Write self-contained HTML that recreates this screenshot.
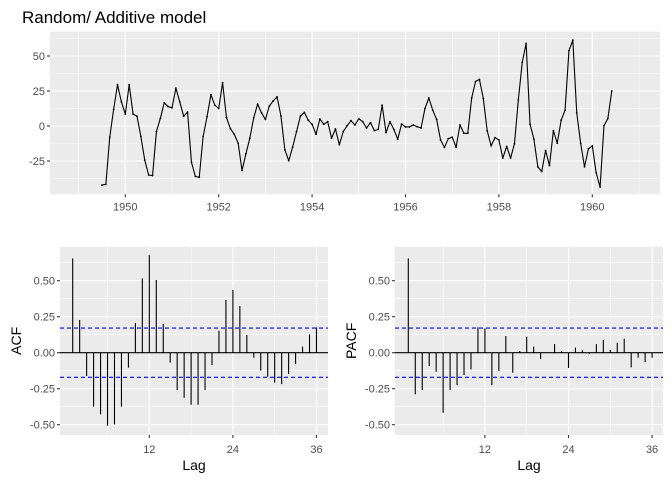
<!DOCTYPE html>
<html><head><meta charset="utf-8"><style>
body{margin:0;background:#fff;}
svg{display:block;font-family:"Liberation Sans",Arial,sans-serif;}
</style></head><body>
<svg id="c" width="672" height="480" xmlns="http://www.w3.org/2000/svg">
<text x="22" y="23" font-size="17" fill="#000">Random/ Additive model</text>
</svg>
<script>
const seriesStart = 1949.5;
const seriesValues = [-42.2,-41.7,-8,11.8,29.5,17.2,8.5,29.5,8.5,7,-7.5,-24.5,-35,-35.4,-4,5.4,16.5,13.9,13,27,17.2,7,10,-26,-36,-36.6,-7.5,6.6,22.4,14.9,12.5,30.9,6,-1.9,-5.9,-12.3,-31.8,-19.8,-8.7,5.9,15.6,
9.4,4.7,14.2,17.9,20.8,7.1,-17,-24.8,-15.1,-4,7.1,9.7,4.2,1.2,-5.9,5,1.2,3.1,-8.7,-2.1,-13.4,-4,0.2,3.8,0.7,5.2,3.1,-1.4,2.4,-3.3,-2.4,14.9,-4.7,3.1,-2.4,-9.4,1.4,-0.7,-0.7,0.7,-0.5,-1.4,12.5,20,11.3,4.7,-9.9,-15.3,-9,
-8,-15.1,0.7,-5.2,-5.2,20,31.8,33.3,19.6,-3.5,-14.2,-8.3,-9.9,-22.9,-14.6,-22.9,-12.7,18.9,45.5,59,1.2,-9.4,-29.2,-32.5,-17.5,-28.3,-3.3,-12.3,4.2,11.3,53.8,61.3,9.4,-12.3,-29.2,-16.3,-14.2,-33.5,-43.6,0.2,5.4,25];
const topYTicks = [50,25,0,-25];
const topXTicks = [1950,1952,1954,1956,1958,1960];
const acfValues = [0.655,0.227,-0.162,-0.375,-0.428,-0.507,-0.498,-0.375,-0.104,0.206,0.516,0.678,0.505,0.199,-0.069,-0.259,-0.313,-0.361,-0.361,-0.259,-0.086,0.153,0.366,0.435,0.324,0.123,-0.035,-0.125,-0.167,-0.208,-0.218,-0.148,-0.079,0.042,0.127,0.176];
const pacfValues = [0.655,-0.289,-0.259,-0.093,-0.132,-0.417,-0.259,-0.225,-0.155,-0.116,0.176,0.169,-0.225,-0.127,0.116,-0.139,0.012,0.111,0.042,-0.044,0.0,0.06,0.012,-0.106,0.035,0.019,-0.009,0.06,0.088,0.019,0.069,0.097,-0.102,-0.035,-0.065,-0.035];
const ciLimit = 0.171;
const corYTicks = [0.5,0.25,0,-0.25,-0.5];
const lagTicks = [12,24,36];

const svg = document.getElementById('c');
const NS = 'http://www.w3.org/2000/svg';
function mk(tag, attrs, parent){const e=document.createElementNS(NS,tag);for(const k in attrs)e.setAttribute(k,attrs[k]);(parent||svg).appendChild(e);return e;}

// ---- top panel
const tp = {l:50,r:660,t:31.7,b:194.3};
const tx = t => 125.3 + (t-1950)*46.7;
const ty = v => 126 - v*1.4;
let g = mk('g',{});


mk('rect',{x:tp.l,y:tp.t,width:tp.r-tp.l,height:tp.b-tp.t,fill:'#ebebeb'},g);
for(let yr=1949; yr<=1961; yr+=2){mk('line',{x1:tx(yr),x2:tx(yr),y1:tp.t,y2:tp.b,stroke:'#fff','stroke-width':0.55},g);}
[62.5,37.5,12.5,-12.5,-37.5].forEach(v=>mk('line',{x1:tp.l,x2:tp.r,y1:ty(v),y2:ty(v),stroke:'#fff','stroke-width':0.55},g));
topXTicks.forEach(yr=>{
  mk('line',{x1:tx(yr),x2:tx(yr),y1:tp.t,y2:tp.b,stroke:'#fff','stroke-width':1.1},g);
  mk('line',{x1:tx(yr),x2:tx(yr),y1:tp.b,y2:tp.b+3,stroke:'#333','stroke-width':1.1},g);
  const t=mk('text',{x:tx(yr),y:tp.b+16,'font-size':11,fill:'#4d4d4d','text-anchor':'middle'},g);t.textContent=yr;
  
});
topYTicks.forEach(v=>{
  mk('line',{x1:tp.l,x2:tp.r,y1:ty(v),y2:ty(v),stroke:'#fff','stroke-width':1.1},g);
  mk('line',{x1:tp.l-3,x2:tp.l,y1:ty(v),y2:ty(v),stroke:'#333','stroke-width':1.1},g);
  const t=mk('text',{x:tp.l-5,y:ty(v)+4,'font-size':11,fill:'#4d4d4d','text-anchor':'end'},g);t.textContent=v;
  
});
const pts = seriesValues.map((v,i)=>tx(seriesStart+i/12).toFixed(2)+','+ty(v).toFixed(2)).join(' ');
const line = mk('polyline',{points:pts,fill:'none',stroke:'#000','stroke-width':1.1,'stroke-linejoin':'round'},g);


seriesValues.forEach((v,i)=>mk('circle',{cx:tx(seriesStart+i/12),cy:ty(v),r:0.9,fill:'#000'},g));

// ---- correlogram panels
function corPanel(name, vals, l, r, lag1x, ylab){
  const p={l:l,r:r,t:246.7,b:435};
  const cx = lag => lag1x + (lag-1)*6.965;
  const cy = v => 352.7 - v*144;
  const gg = mk('g',{});
  
  
  mk('rect',{x:p.l,y:p.t,width:p.r-p.l,height:p.b-p.t,fill:'#ebebeb'},gg);
  [6,18,30].forEach(k=>mk('line',{x1:cx(k),x2:cx(k),y1:p.t,y2:p.b,stroke:'#fff','stroke-width':0.55},gg));
  [0.625,0.375,0.125,-0.125,-0.375].forEach(v=>mk('line',{x1:p.l,x2:p.r,y1:cy(v),y2:cy(v),stroke:'#fff','stroke-width':0.55},gg));
  lagTicks.forEach(k=>{
    mk('line',{x1:cx(k),x2:cx(k),y1:p.t,y2:p.b,stroke:'#fff','stroke-width':1.1},gg);
    mk('line',{x1:cx(k),x2:cx(k),y1:p.b,y2:p.b+3,stroke:'#333','stroke-width':1.1},gg);
    const t=mk('text',{x:cx(k),y:p.b+18,'font-size':11,fill:'#4d4d4d','text-anchor':'middle'},gg);t.textContent=k;
    
  });
  corYTicks.forEach(v=>{
    mk('line',{x1:p.l,x2:p.r,y1:cy(v),y2:cy(v),stroke:'#fff','stroke-width':1.1},gg);
    mk('line',{x1:p.l-3,x2:p.l,y1:cy(v),y2:cy(v),stroke:'#333','stroke-width':1.1},gg);
    const t=mk('text',{x:p.l-5,y:cy(v)+4,'font-size':11,fill:'#4d4d4d','text-anchor':'end'},gg);t.textContent=v.toFixed(2);
    
  });
  mk('line',{x1:p.l,x2:p.r,y1:cy(0),y2:cy(0),stroke:'#000','stroke-width':1.1},gg);
  vals.forEach((v,i)=>{
    const b=mk('line',{x1:cx(i+1),x2:cx(i+1),y1:cy(0),y2:cy(v),stroke:'#000','stroke-width':1.1},gg);
    
    
  });
  [ciLimit,-ciLimit].forEach(v=>{
    const c=mk('line',{x1:p.l,x2:p.r,y1:cy(v),y2:cy(v),stroke:'#0000ff','stroke-width':1.1,'stroke-dasharray':'4,3'},gg);
    
  });
  const xl=mk('text',{x:(p.l+p.r)/2,y:470,'font-size':14,fill:'#000','text-anchor':'middle'},gg);xl.textContent='Lag';
  
  const yl=mk('text',{x:0,y:0,'font-size':14,fill:'#000','text-anchor':'middle',transform:'translate('+(p.l-39)+','+((p.t+p.b)/2)+') rotate(-90)'},gg);yl.textContent=ylab;
  
}
corPanel('acf', acfValues, 60, 328, 72.7, 'ACF');
corPanel('pacf', pacfValues, 395, 663, 408.3, 'PACF');
</script>
</body></html>
